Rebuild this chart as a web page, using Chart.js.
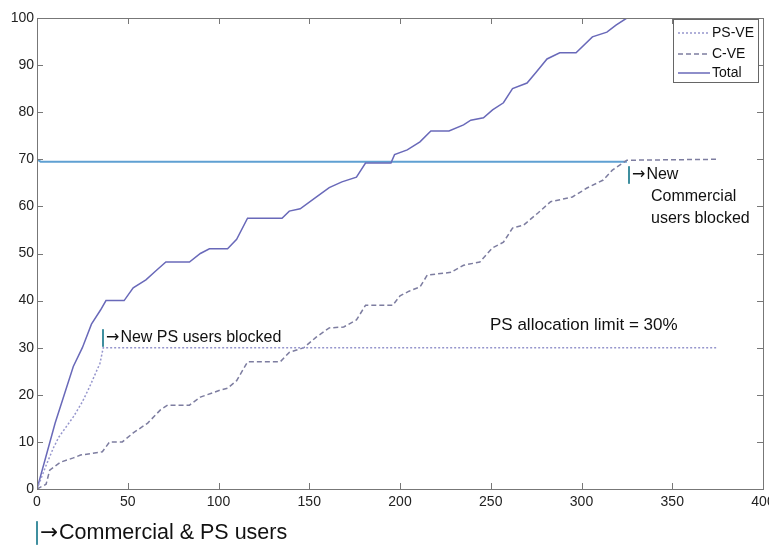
<!DOCTYPE html>
<html>
<head>
<meta charset="utf-8">
<script src="https://cdn.jsdelivr.net/npm/chart.js@4.4.0/dist/chart.umd.min.js"></script>
<style>
  body { margin: 0; background: #fff; }
  #wrap { width: 769px; height: 546px; }
</style>
</head>
<body>
<div id="wrap"><canvas id="chart"></canvas></div>
<script>
// values (x = users, y = %)
const psUsers = [0, 5, 9, 12, 20, 25, 29, 34.7, 36.5, 375];
const psPct = [0, 5, 8.7, 11, 15.3, 18.5, 21.7, 26.7, 30, 30];

const cUsers = [0, 5, 7, 13, 20, 24, 36, 40, 47, 53, 61, 68, 72, 84, 90, 101, 105, 110, 116, 134, 139, 147, 154, 161, 169, 176, 181, 196, 200, 205, 211, 215, 228, 235, 244, 251, 257, 262, 268, 276, 283, 295, 303, 312, 317, 325, 375];
const cPct = [0, 1, 4, 5.7, 6.6, 7.2, 7.9, 10, 10, 11.9, 14, 16.8, 17.8, 17.8, 19.5, 21, 21.4, 23, 27, 27, 29, 30, 32.3, 34.2, 34.4, 35.9, 39, 39, 41, 42, 42.9, 45.4, 46, 47.5, 48.2, 51.2, 52.4, 55.4, 56, 58.6, 61, 62, 63.9, 65.6, 67.7, 69.8, 70];

const totalUsers = [0, 5, 10, 15, 20, 25, 30, 35, 38, 48, 53, 60, 66, 71, 84, 90, 95, 105, 110, 116, 135, 139, 145, 154, 161, 168, 176, 181, 195, 197, 204, 211, 217, 227, 235, 239, 246, 251, 257, 262, 270, 275, 281, 288, 297, 306, 314, 319, 325];
const totalPct = [0, 7, 14, 20, 26, 30, 35, 38, 40, 40, 42.7, 44.4, 46.5, 48.2, 48.2, 50, 51, 51, 53, 57.5, 57.5, 59, 59.5, 62, 64, 65.2, 66.2, 69.2, 69.2, 71, 72, 73.7, 76, 76, 77.3, 78.3, 78.8, 80.5, 82, 85, 86.2, 88.5, 91.3, 92.6, 92.6, 96, 97, 98.5, 100];

const limitUsers = [0, 2, 325];
const limitPct = [70, 69.5, 69.5];

const seriesNames = ['PS-VE', 'C-VE', 'Total'];
const xMax = 400, xStep = 50;
const yMax = 100, yStep = 10;

function pts(xs, ys) {
    return xs.map((x, i) => ({ x: x, y: ys[i] }));
}

const FONT = '"Liberation Sans", Arial, sans-serif';
const ARROW = '"DejaVu Sans", sans-serif';

const frame = {
    id: 'frame',
    afterDraw(chart) {
        const ctx = chart.ctx;
        const a = chart.chartArea;
        const xs = chart.scales.x, ys = chart.scales.y;
        ctx.save();
        ctx.strokeStyle = '#777';
        ctx.lineWidth = 1;
        ctx.strokeRect(a.left + 0.5, a.top + 0.5, a.right - a.left, a.bottom - a.top);
        // inward ticks on all four sides
        ctx.beginPath();
        for (let v = 0; v <= xMax; v += xStep) {
            const p = Math.round(xs.getPixelForValue(v)) + 0.5;
            ctx.moveTo(p, a.bottom); ctx.lineTo(p, a.bottom - 6);
            ctx.moveTo(p, a.top); ctx.lineTo(p, a.top + 6);
        }
        for (let v = 0; v <= yMax; v += yStep) {
            const p = Math.round(ys.getPixelForValue(v)) + 0.5;
            ctx.moveTo(a.left, p); ctx.lineTo(a.left + 6, p);
            ctx.moveTo(a.right, p); ctx.lineTo(a.right - 6, p);
        }
        ctx.stroke();

        // legend box
        const lx = 673, ly = 19, lw = 85, lh = 63;
        ctx.fillStyle = '#fff';
        ctx.fillRect(lx, ly, lw, lh);
        ctx.strokeStyle = '#666';
        ctx.strokeRect(lx + 0.5, ly + 0.5, lw, lh);
        const sets = chart.data.datasets;
        const rows = [33, 54, 73];
        ctx.font = '14px ' + FONT;
        ctx.textBaseline = 'middle';
        for (let i = 0; i < 3; i++) {
            const ds = sets[i];
            ctx.strokeStyle = ds.borderColor;
            ctx.lineWidth = ds.borderWidth;
            ctx.setLineDash(ds.borderDash || []);
            ctx.beginPath();
            ctx.moveTo(lx + 5, rows[i]); ctx.lineTo(lx + 37, rows[i]);
            ctx.stroke();
            ctx.setLineDash([]);
            ctx.fillStyle = '#111';
            ctx.textAlign = 'left';
            ctx.fillText(seriesNames[i], lx + 39, rows[i]);
        }

        // annotations: teal bar, arrow, text
        function note(x, y, size, text) {
            ctx.fillStyle = '#3f8f9f';
            ctx.fillRect(x, y - size * 0.55, 2, size * 1.1);
            ctx.fillStyle = '#111';
            ctx.textAlign = 'left';
            ctx.font = size + 'px ' + ARROW;
            ctx.fillText('\u2192', x + 4, y);
            const w = ctx.measureText('\u2192').width;
            ctx.font = size + 'px ' + FONT;
            ctx.fillText(text, x + 5 + w, y);
        }
        ctx.textBaseline = 'middle';
        note(102, 338, 16, 'New PS users blocked');
        note(628, 175, 16, 'New');
        ctx.font = '16px ' + FONT;
        ctx.fillText('Commercial', 651, 197);
        ctx.fillText('users blocked', 651, 219);
        ctx.font = '17px ' + FONT;
        ctx.fillText('PS allocation limit = 30%', 490, 325);
        note(36, 533, 21.5, 'Commercial & PS users');
        ctx.restore();
    }
};

const data = {
    datasets: [{
        label: seriesNames[0],
        data: pts(psUsers, psPct),
        borderColor: 'rgb(150, 150, 205)',
        borderWidth: 1.5,
        borderDash: [2, 2]
    }, {
        label: seriesNames[1],
        data: pts(cUsers, cPct),
        borderColor: 'rgb(125, 125, 160)',
        borderWidth: 1.5,
        borderDash: [5, 3]
    }, {
        label: seriesNames[2],
        data: pts(totalUsers, totalPct),
        borderColor: 'rgb(105, 105, 185)',
        borderWidth: 1.5
    }, {
        label: 'limit',
        data: pts(limitUsers, limitPct),
        borderColor: 'rgb(95, 160, 210)',
        borderWidth: 2
    }]
};

const config = {
    type: 'line',
    data,
    options: {
        responsive: true,
        maintainAspectRatio: false,
        animation: false,
        layout: { padding: { top: 18, right: 6, left: 0, bottom: 0 } },
        plugins: {
            legend: false,
            tooltip: false
        },
        elements: {
            point: { radius: 0 },
            line: { tension: 0 }
        },
        scales: {
            x: {
                type: 'linear',
                min: 0,
                max: xMax,
                grid: { display: false, drawTicks: false },
                border: { display: false },
                ticks: {
                    stepSize: xStep,
                    maxRotation: 0,
                    padding: 5,
                    color: '#222',
                    font: { family: FONT, size: 14 }
                },
                afterFit(s) {
                    s.height = 57;
                    s.paddingLeft = 0;
                    s.paddingRight = 0;
                }
            },
            y: {
                min: 0,
                max: yMax,
                grid: { display: false, drawTicks: false },
                border: { display: false },
                ticks: {
                    stepSize: yStep,
                    padding: 3,
                    color: '#222',
                    font: { family: FONT, size: 14 }
                },
                afterFit(s) {
                    s.width = 37;
                    s.paddingTop = 0;
                    s.paddingBottom = 0;
                }
            }
        }
    },
    plugins: [frame]
};

var myChart = new Chart(document.getElementById('chart'), config);
</script>
</body>
</html>
